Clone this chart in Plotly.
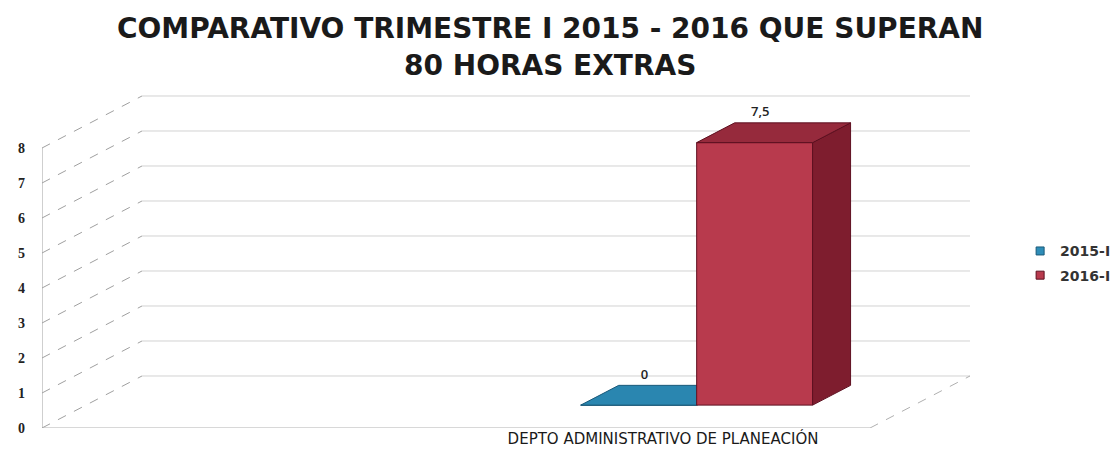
import plotly.graph_objects as go

# ---- data ----
categories = ["", "DEPTO ADMINISTRATIVO DE PLANEACIÓN"]
series_names = ["2015-I", "2016-I"]
values_2015 = [None, 0]
values_2016 = [None, 7.5]
y_ticks = [0, 1, 2, 3, 4, 5, 6, 7, 8]
title_lines = ["COMPARATIVO TRIMESTRE I 2015 - 2016 QUE SUPERAN", "80 HORAS EXTRAS"]

# ---- 3D projection style constants (axis units) ----
DX = 0.2415      # horizontal depth offset of the floor
DY = 1.486       # vertical depth offset of the floor
T0, T1 = 0.44, 0.82   # bar depth span (fraction of floor depth)
BAR_W = 0.28
SHIFT = -0.025
LABEL_DY = 0.1

front_col = {"2015-I": "#2E8DB8", "2016-I": "#B83A4D"}
top_col = {"2015-I": "#2A86B0", "2016-I": "#962A3C"}
side_col = {"2015-I": "#1F6A8E", "2016-I": "#7E1D2E"}
edge_col = {"2015-I": "#1B5A7A", "2016-I": "#5E1020"}

fig = go.Figure()

x_lo, x_hi = -0.5, len(categories) - 0.5

# side wall dashed lines and back wall lines
for k in y_ticks:
    fig.add_trace(go.Scatter(x=[x_lo, x_lo + DX], y=[k, k + DY], mode="lines",
                             line=dict(color="#A0A0A0", width=1, dash="dash"),
                             showlegend=False, hoverinfo="skip"))
    fig.add_trace(go.Scatter(x=[x_lo + DX, x_hi + DX], y=[k + DY, k + DY], mode="lines",
                             line=dict(color="#D2D2D2", width=1),
                             showlegend=False, hoverinfo="skip"))
# floor edges and value axis line
fig.add_trace(go.Scatter(x=[x_lo, x_hi], y=[0, 0], mode="lines",
                         line=dict(color="#B0B0B0", width=1),
                         showlegend=False, hoverinfo="skip"))
fig.add_trace(go.Scatter(x=[x_hi, x_hi + DX], y=[0, DY], mode="lines",
                         line=dict(color="#B0B0B0", width=1, dash="dash"),
                         showlegend=False, hoverinfo="skip"))
fig.add_trace(go.Scatter(x=[x_lo, x_lo], y=[y_ticks[0], y_ticks[-1]], mode="lines",
                         line=dict(color="#A0A0A0", width=1),
                         showlegend=False, hoverinfo="skip"))


def add_bar(name, cat_idx, v, offset_idx):
    c = cat_idx + SHIFT
    x0 = c - BAR_W + offset_idx * BAR_W
    x1 = x0 + BAR_W
    fx0, fx1 = x0 + T0 * DX, x1 + T0 * DX
    bx0, bx1 = x0 + T1 * DX, x1 + T1 * DX
    yb0, yb1 = T0 * DY, T1 * DY
    # front face
    fig.add_trace(go.Scatter(x=[fx0, fx1, fx1, fx0, fx0], y=[yb0, yb0, v + yb0, v + yb0, yb0],
                             mode="lines", fill="toself", fillcolor=front_col[name],
                             line=dict(color=edge_col[name], width=1),
                             showlegend=False, hoverinfo="skip"))
    # side face
    fig.add_trace(go.Scatter(x=[fx1, bx1, bx1, fx1, fx1], y=[yb0, yb1, v + yb1, v + yb0, yb0],
                             mode="lines", fill="toself", fillcolor=side_col[name],
                             line=dict(color=edge_col[name], width=1),
                             showlegend=False, hoverinfo="skip"))
    # top face
    fig.add_trace(go.Scatter(x=[fx0, fx1, bx1, bx0, fx0], y=[v + yb0, v + yb0, v + yb1, v + yb1, v + yb0],
                             mode="lines", fill="toself", fillcolor=top_col[name],
                             line=dict(color=edge_col[name], width=1),
                             showlegend=False, hoverinfo="skip"))
    # data label
    tl = T0 + 0.15 * (T1 - T0)
    fig.add_trace(go.Scatter(x=[(x0 + x1) / 2 + tl * DX], y=[v + yb1 + LABEL_DY],
                             mode="text", text=[f"{v:g}".replace(".", ",")],
                             textposition="top center",
                             textfont=dict(family="Open Sans", size=13, color="#222", weight=600),
                             showlegend=False, hoverinfo="skip"))


for i, v in enumerate(values_2015):
    if v is not None:
        add_bar("2015-I", i, v, 0)
for i, v in enumerate(values_2016):
    if v is not None:
        add_bar("2016-I", i, v, 1)

# legend entries
for name in series_names:
    fig.add_trace(go.Scatter(x=[None], y=[None], mode="markers", name=name,
                             legendgroup=name,
                             marker=dict(symbol="square", size=8, color=front_col[name],
                                         line=dict(color=edge_col[name], width=1))))

fig.update_layout(
    width=1111, height=449,
    margin=dict(l=42, r=141, t=92, b=21, autoexpand=False),
    paper_bgcolor="white", plot_bgcolor="white",
    xaxis=dict(range=[x_lo, x_hi + DX], tickvals=list(range(len(categories))),
               ticktext=categories, showgrid=False, zeroline=False, showline=False,
               ticks="", automargin=False, ticklabelstandoff=0,
               tickfont=dict(family="DejaVu Sans", size=15, color="#1a1a1a")),
    yaxis=dict(range=[0, 9.6], tickvals=y_ticks, showgrid=False, zeroline=False,
               showline=False, ticks="", automargin=False,
               tickfont=dict(family="Liberation Serif", size=14, color="#222", weight="bold"),
               ticklabelstandoff=16),
    legend=dict(x=1.054, y=0.49, xanchor="left", yanchor="middle",
                itemwidth=30, tracegroupgap=3,
                font=dict(family="DejaVu Sans", size=14, color="#333", weight="bold"),
                bgcolor="rgba(0,0,0,0)"),
    annotations=[
        dict(text=f"<b>{title_lines[0]}</b>", xref="paper", yref="paper",
             x=0.547, y=(428 - 28) / 336, xanchor="center", yanchor="middle", showarrow=False,
             font=dict(family="DejaVu Sans", size=28, color="#1a1a1a")),
        dict(text=f"<b>{title_lines[1]}</b>", xref="paper", yref="paper",
             x=0.547, y=(428 - 65) / 336, xanchor="center", yanchor="middle", showarrow=False,
             font=dict(family="DejaVu Sans", size=28, color="#1a1a1a")),
    ],
)

fig.write_html("out.html")
